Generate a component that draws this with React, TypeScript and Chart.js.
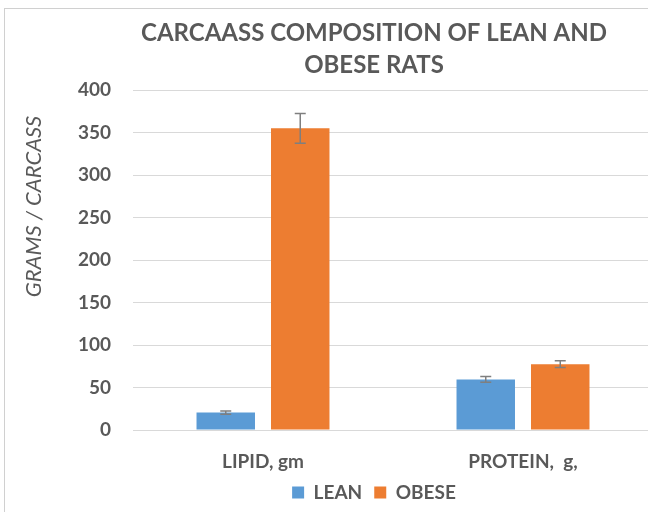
import React, { useEffect, useRef } from "react";
import { Chart, registerables } from "chart.js";

Chart.register(...registerables);

const categories = ["LIPID, gm", "PROTEIN,  g,"];
const seriesNames = ["LEAN", "OBESE"];
const leanValues = [20.5, 59.5];
const leanErrors = [2, 3.3];
const obeseValues = [355, 77.5];
const obeseErrors = [17.5, 4];
const yTicks = [0, 50, 100, 150, 200, 250, 300, 350, 400];
const titleLines = ["CARCAASS COMPOSITION OF LEAN AND", "OBESE RATS"];
const yTitle = "GRAMS / CARCASS";

const TEXT = "#595959";
const FONT = "Lato, 'Noto Sans', sans-serif";

const errorBarPlugin = {
  id: "errorBars",
  afterDatasetsDraw(chart: any) {
    const ctx = chart.ctx;
    const y = chart.scales.y;
    chart.data.datasets.forEach((ds: any, di: number) => {
      const meta = chart.getDatasetMeta(di);
      meta.data.forEach((bar: any, i: number) => {
        const v = ds.data[i];
        const e = ds.errors[i];
        const yTop = y.getPixelForValue(v + e);
        const yBot = y.getPixelForValue(v - e);
        const x = bar.x;
        const cap = 5.5;
        ctx.save();
        ctx.strokeStyle = "#7f7f7f";
        ctx.lineWidth = 1.5;
        ctx.beginPath();
        ctx.moveTo(x, yTop);
        ctx.lineTo(x, yBot);
        ctx.moveTo(x - cap, yTop);
        ctx.lineTo(x + cap, yTop);
        ctx.moveTo(x - cap, yBot);
        ctx.lineTo(x + cap, yBot);
        ctx.stroke();
        ctx.restore();
      });
    });
  },
};

export default function App() {
  const ref = useRef<HTMLCanvasElement | null>(null);
  useEffect(() => {
    if (!ref.current) return;
    const chart = new Chart(ref.current, {
      type: "bar",
      data: {
        labels: categories,
        datasets: [
          {
            label: seriesNames[0],
            data: leanValues,
            errors: leanErrors,
            backgroundColor: "#5B9BD5",
            borderWidth: 0,
          } as any,
          {
            label: seriesNames[1],
            data: obeseValues,
            errors: obeseErrors,
            backgroundColor: "#ED7D31",
            borderWidth: 0,
          } as any,
        ],
      },
      options: {
        responsive: false,
        animation: false,
        datasets: { bar: { categoryPercentage: 0.573, barPercentage: 0.785 } },
        layout: { padding: { left: 0, right: 0, top: 0, bottom: 0 } },
        plugins: {
          title: {
            display: true,
            text: titleLines,
            color: TEXT,
            font: { family: FONT, size: 24, weight: "bold", lineHeight: "32px" as any },
            padding: { top: 17, bottom: 9 },
          },
          legend: {
            display: true,
            position: "bottom",
            labels: {
              color: TEXT,
              font: { family: FONT, size: 19, weight: "bold" },
              boxWidth: 12,
              boxHeight: 12,
              padding: 12,
            },
          },
          tooltip: { enabled: false },
        },
        scales: {
          x: {
            grid: { display: false, drawTicks: false },
            border: { display: true, color: "#d9d9d9", width: 1 },
            ticks: {
              color: TEXT,
              font: { family: FONT, size: 19, weight: "bold" },
              padding: 20,
            },
            afterFit: (s: any) => {
              s.height = 41;
            },
          },
          y: {
            min: 0,
            max: 400,
            afterBuildTicks: (s: any) => {
              s.ticks = yTicks.map((v) => ({ value: v }));
            },
            grid: { color: "#d9d9d9", drawTicks: false, lineWidth: 1 },
            border: { display: false },
            ticks: {
              color: TEXT,
              font: { family: FONT, size: 19, weight: "bold" },
              padding: 22,
            },
            title: {
              display: true,
              text: yTitle + "     ",
              align: "end",
              color: TEXT,
              font: { family: FONT, size: 22, style: "italic" },
              padding: { top: 21, bottom: 0 },
            },
            afterFit: (s: any) => {
              s.width = 133;
            },
          },
          yRight: {
            position: "right",
            min: 0,
            max: 400,
            grid: { display: false, drawTicks: false },
            border: { display: false },
            ticks: { display: false },
            afterFit: (s: any) => {
              s.width = 95;
            },
          },
        },
      },
      plugins: [errorBarPlugin],
    });
    return () => chart.destroy();
  }, []);
  return (
    <div style={{ position: "absolute", left: 0, top: 0, width: 648, height: 512, overflow: "hidden", background: "#fff" }}>
      <div
        style={{
          position: "absolute",
          left: 4,
          top: 8,
          width: 700,
          height: 600,
          borderLeft: "1px solid #d0d0d0",
          borderTop: "1px solid #d0d0d0",
        }}
      />
      <canvas ref={ref} width={748} height={512} style={{ position: "absolute", left: 0, top: 0 }} />
    </div>
  );
}
